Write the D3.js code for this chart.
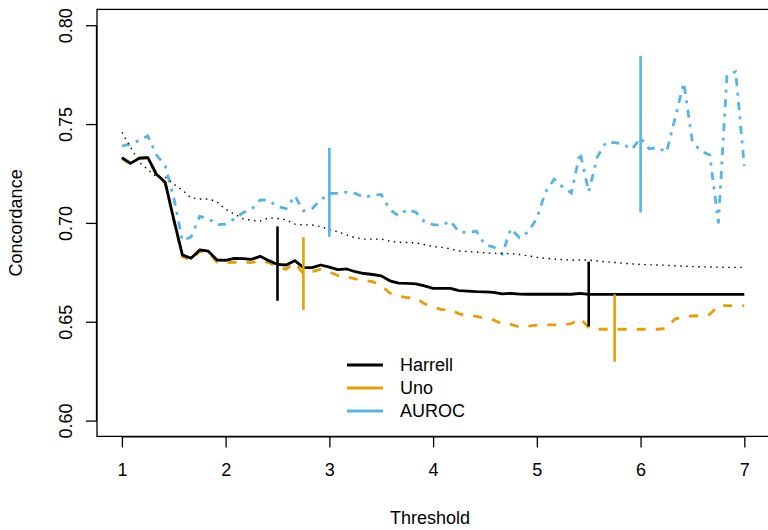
<!DOCTYPE html>
<html>
<head>
<meta charset="utf-8">
<script src="https://cdn.jsdelivr.net/npm/d3@7"></script>
<style>
	body { margin: 0; background: #fff; }
	svg { display: block; font-family: 'Liberation Sans', Arial, Helvetica, sans-serif; }
</style>
</head>
<body>
<div id="chart"></div>
<script>
const threshold = [
	1.000, 1.083, 1.167, 1.250, 1.333, 1.417, 1.500, 1.583, 1.667, 1.750, 1.833, 1.917,
	2.000, 2.083, 2.167, 2.250, 2.333, 2.417, 2.500, 2.583, 2.667, 2.750, 2.833, 2.917,
	3.000, 3.083, 3.167, 3.250, 3.333, 3.417, 3.500, 3.583, 3.667, 3.750, 3.833, 3.917,
	4.000, 4.083, 4.167, 4.250, 4.333, 4.417, 4.500, 4.583, 4.667, 4.750, 4.833, 4.917,
	5.000, 5.083, 5.167, 5.250, 5.333, 5.417, 5.500, 5.583, 5.667, 5.750, 5.833, 5.917,
	6.000, 6.083, 6.167, 6.250, 6.333, 6.417, 6.500, 6.583, 6.667, 6.750, 6.833, 6.917,
	7.000,
];

const harrell = [
	0.7330, 0.7301, 0.7327, 0.7330, 0.7246, 0.7206, 0.7018, 0.6838, 0.6821, 0.6863, 0.6857, 0.6812,
	0.6811, 0.6821, 0.6819, 0.6816, 0.6831, 0.6809, 0.6790, 0.6787, 0.6809, 0.6774, 0.6774, 0.6787,
	0.6776, 0.6764, 0.6767, 0.6753, 0.6744, 0.6739, 0.6732, 0.6707, 0.6695, 0.6694, 0.6692, 0.6681,
	0.6669, 0.6669, 0.6669, 0.6657, 0.6655, 0.6652, 0.6651, 0.6649, 0.6641, 0.6644, 0.6640, 0.6639,
	0.6639, 0.6639, 0.6639, 0.6639, 0.6639, 0.6644, 0.6638, 0.6638, 0.6638, 0.6638, 0.6638, 0.6638,
	0.6638, 0.6638, 0.6638, 0.6638, 0.6638, 0.6638, 0.6638, 0.6638, 0.6638, 0.6638, 0.6638, 0.6638,
	0.6638,
];

const uno = [
	0.7324, 0.7299, 0.7329, 0.7329, 0.7240, 0.7201, 0.7013, 0.6829, 0.6811, 0.6856, 0.6851, 0.6801,
	0.6799, 0.6801, 0.6801, 0.6799, 0.6811, 0.6799, 0.6776, 0.6766, 0.6799, 0.6742, 0.6753, 0.6766,
	0.6752, 0.6734, 0.6727, 0.6717, 0.6710, 0.6703, 0.6683, 0.6645, 0.6629, 0.6622, 0.6620, 0.6591,
	0.6574, 0.6561, 0.6562, 0.6540, 0.6533, 0.6527, 0.6517, 0.6509, 0.6488, 0.6486, 0.6473, 0.6478,
	0.6483, 0.6484, 0.6484, 0.6484, 0.6490, 0.6517, 0.6471, 0.6462, 0.6462, 0.6462, 0.6462, 0.6462,
	0.6462, 0.6462, 0.6462, 0.6466, 0.6515, 0.6523, 0.6529, 0.6531, 0.6537, 0.6582, 0.6582, 0.6582,
	0.6582,
];

const auroc = [
	0.7389, 0.7398, 0.7418, 0.7440, 0.7344, 0.7289, 0.7127, 0.6910, 0.6929, 0.7033, 0.7023, 0.6991,
	0.6994, 0.7020, 0.7052, 0.7069, 0.7116, 0.7114, 0.7082, 0.7072, 0.7137, 0.7061, 0.7072, 0.7117,
	0.7149, 0.7149, 0.7156, 0.7149, 0.7129, 0.7140, 0.7144, 0.7068, 0.7036, 0.7068, 0.7054, 0.7006,
	0.6991, 0.6987, 0.7010, 0.6954, 0.6951, 0.6959, 0.6890, 0.6878, 0.6843, 0.6971, 0.6925, 0.6954,
	0.7023, 0.7156, 0.7221, 0.7181, 0.7151, 0.7357, 0.7158, 0.7334, 0.7408, 0.7406, 0.7398, 0.7372,
	0.7430, 0.7375, 0.7381, 0.7357, 0.7531, 0.7709, 0.7408, 0.7363, 0.7344, 0.6998, 0.7748, 0.7765,
	0.7287,
];

// unlabelled dotted reference curve
const reference = [
	0.7458, 0.7383, 0.7307, 0.7270, 0.7233, 0.7233, 0.7196, 0.7166, 0.7127, 0.7121, 0.7121, 0.7107,
	0.7069, 0.7045, 0.7021, 0.7013, 0.7009, 0.7026, 0.7022, 0.7016, 0.6994, 0.6990, 0.6990, 0.6981,
	0.6967, 0.6955, 0.6939, 0.6925, 0.6918, 0.6918, 0.6918, 0.6907, 0.6902, 0.6901, 0.6899, 0.6890,
	0.6880, 0.6876, 0.6869, 0.6858, 0.6855, 0.6852, 0.6849, 0.6846, 0.6845, 0.6844, 0.6840, 0.6833,
	0.6826, 0.6821, 0.6817, 0.6814, 0.6811, 0.6812, 0.6812, 0.6807, 0.6803, 0.6800, 0.6796, 0.6793,
	0.6790, 0.6788, 0.6787, 0.6786, 0.6783, 0.6781, 0.6779, 0.6778, 0.6777, 0.6776, 0.6775, 0.6775,
	0.6775,
];

// confidence interval bars
const ciMetric = ['Harrell', 'Harrell', 'Uno', 'Uno', 'AUROC', 'AUROC'];
const ciX = [2.5, 5.5, 2.75, 5.75, 3, 6];
const ciLow = [0.6606, 0.6476, 0.6560, 0.6298, 0.6930, 0.7053];
const ciHigh = [0.6982, 0.6804, 0.6928, 0.6639, 0.7380, 0.7845];

const xTicks = [1, 2, 3, 4, 5, 6, 7];
const yTicks = [0.60, 0.65, 0.70, 0.75, 0.80];
const legendLabels = ['Harrell', 'Uno', 'AUROC'];

const colors = { Harrell: '#000000', Uno: '#E69F00', AUROC: '#56B4E9' };

const width = 768;
const height = 530;
const box = { left: 97.0, right: 769.2, top: 9.4, bottom: 436.4 };
const fontSize = 18;

const svg = d3.select('#chart').append('svg')
	.attr('width', width)
	.attr('height', height);

// R style: box extends 4% beyond the data range
const x = d3.scaleLinear()
	.domain([0.76, 7.24])
	.range([box.left, box.right]);
const y = d3.scaleLinear()
	.domain([0.592, 0.808])
	.range([box.bottom, box.top]);

// plot frame
svg.append('rect')
	.attr('x', box.left)
	.attr('y', box.top)
	.attr('width', box.right - box.left)
	.attr('height', box.bottom - box.top)
	.attr('fill', 'none')
	.attr('stroke', '#000')
	.attr('stroke-width', 1.3);

// x axis
const xAxis = svg.append('g')
	.attr('transform', `translate(0, ${box.bottom})`)
	.call(d3.axisBottom(x).tickValues(xTicks).tickSize(11).tickPadding(16).tickFormat(d3.format('d')));
xAxis.select('.domain')
	.attr('d', `M${x(1)},0.5H${x(7)}`)
	.attr('stroke-width', 1.3);
xAxis.selectAll('.tick line').attr('stroke-width', 1.3);
xAxis.selectAll('.tick text')
	.attr('font-size', fontSize)
	.attr('font-family', null)
	.attr('dy', '0.71em')
	.attr('fill', '#000');

// y axis with rotated tick labels
const yAxis = svg.append('g')
	.attr('transform', `translate(${box.left}, 0)`)
	.call(d3.axisLeft(y).tickValues(yTicks).tickSize(11).tickFormat(d3.format('.2f')));
yAxis.select('.domain')
	.attr('d', `M-0.5,${y(0.60)}V${y(0.80)}`)
	.attr('stroke-width', 1.3);
yAxis.selectAll('.tick line').attr('stroke-width', 1.3);
yAxis.selectAll('.tick text')
	.attr('font-size', fontSize)
	.attr('font-family', null)
	.attr('fill', '#000')
	.attr('x', null)
	.attr('dy', null)
	.attr('text-anchor', 'middle')
	.attr('dominant-baseline', 'central')
	.attr('transform', 'translate(-31, 0) rotate(-90)');

// axis titles
svg.append('text')
	.attr('x', (box.left + box.right) / 2 - 3)
	.attr('y', 518)
	.attr('text-anchor', 'middle')
	.attr('dominant-baseline', 'central')
	.attr('font-size', fontSize)
	.text('Threshold');
svg.append('text')
	.attr('transform', `translate(16, ${(box.top + box.bottom) / 2}) rotate(-90)`)
	.attr('text-anchor', 'middle')
	.attr('dominant-baseline', 'central')
	.attr('font-size', fontSize)
	.text('Concordance');

// lines
const line = d3.line()
	.x((d, i) => x(threshold[i]))
	.y(d => y(d));

const plot = svg.append('g');

plot.append('path')
	.attr('d', line(uno))
	.attr('fill', 'none')
	.attr('stroke', colors.Uno)
	.attr('stroke-width', 2.8)
	.attr('stroke-dasharray', '9,10');

plot.append('path')
	.attr('d', line(harrell))
	.attr('fill', 'none')
	.attr('stroke', colors.Harrell)
	.attr('stroke-width', 2.8)
	.attr('stroke-linejoin', 'round');

plot.append('path')
	.attr('d', line(auroc))
	.attr('fill', 'none')
	.attr('stroke', colors.AUROC)
	.attr('stroke-width', 2.8)
	.attr('stroke-dasharray', '8,6.5,3,6.5');

plot.append('path')
	.attr('d', line(reference))
	.attr('fill', 'none')
	.attr('stroke', '#000')
	.attr('stroke-width', 1.4)
	.attr('stroke-dasharray', '1.5,4.5');

// confidence intervals
plot.selectAll('.ci')
	.data(ciX)
	.enter()
	.append('line')
	.attr('class', 'ci')
	.attr('x1', d => x(d))
	.attr('x2', d => x(d))
	.attr('y1', (d, i) => y(ciLow[i]))
	.attr('y2', (d, i) => y(ciHigh[i]))
	.attr('stroke', (d, i) => colors[ciMetric[i]])
	.attr('stroke-width', 2.6);

// legend
const legend = svg.append('g')
	.attr('transform', 'translate(347, 365)');
const items = legend.selectAll('.item')
	.data(legendLabels)
	.enter()
	.append('g')
	.attr('class', 'item')
	.attr('transform', (d, i) => `translate(0, ${i * 23})`);
items.append('line')
	.attr('x1', 0)
	.attr('x2', 36)
	.attr('stroke', d => colors[d])
	.attr('stroke-width', 2.8);
items.append('text')
	.attr('x', 53)
	.attr('dominant-baseline', 'central')
	.attr('font-size', fontSize)
	.text(d => d);
</script>
</body>
</html>
